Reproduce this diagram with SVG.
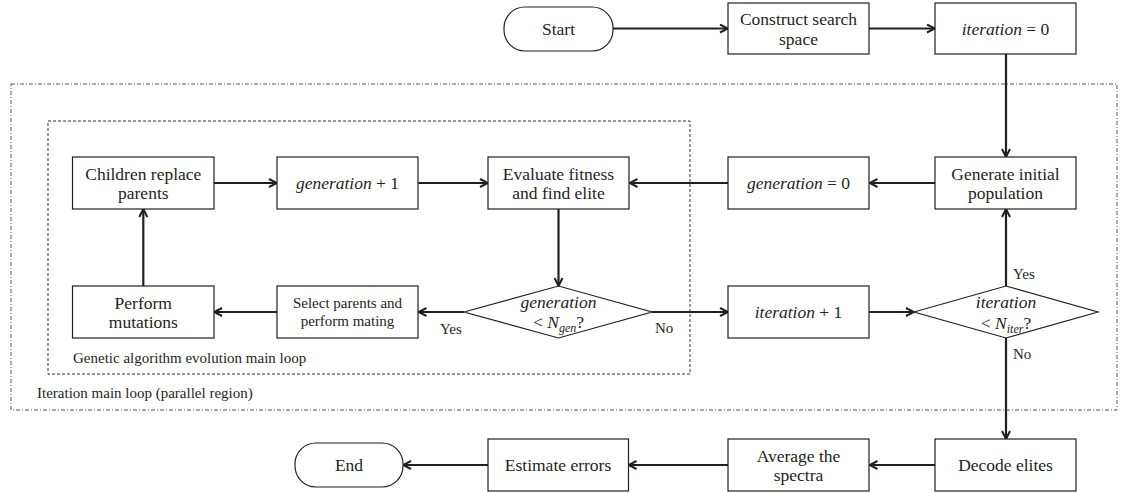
<svg xmlns="http://www.w3.org/2000/svg" width="1126" height="493" viewBox="0 0 1126 493">
<defs>
<style>
.box{fill:#fff;stroke:#231f20;stroke-width:1.2}
.t{font-family:'Liberation Serif','Noto Serif','DejaVu Serif','Nimbus Roman','FreeSerif','Tinos',Times,serif;font-size:17.5px;fill:#231f20;text-anchor:middle}
.s{font-family:'Liberation Serif','Noto Serif','DejaVu Serif','Nimbus Roman','FreeSerif','Tinos',Times,serif;font-size:15px;fill:#231f20}
.i{font-style:italic}
.c{fill:none;stroke:#231f20;stroke-width:2.2;marker-end:url(#arr)}
.outer{fill:none;stroke:#555;stroke-width:1;stroke-dasharray:4 2 1 2}
.inner{fill:none;stroke:#333;stroke-width:1;stroke-dasharray:3 2}
</style>
<marker id="arr" viewBox="0 0 10 10" refX="9" refY="5" markerWidth="10" markerHeight="10" markerUnits="userSpaceOnUse" orient="auto">
<path d="M1,1 L9,5 L1,9" fill="none" stroke="#231f20" stroke-width="2"/>
</marker>
</defs>
<rect width="1126" height="493" fill="#fff"/>
<g id="regions">
<rect class="outer" x="11" y="84" width="1106" height="326"/>
<text class="s" x="37" y="398">Iteration main loop (parallel region)</text>
<rect class="inner" x="48" y="121" width="642" height="253"/>
<text class="s" x="73" y="363">Genetic algorithm evolution main loop</text>
</g>
<g id="connectors">
<line class="c" x1="613" y1="28.5" x2="728" y2="28.5"/>
<line class="c" x1="869" y1="28.5" x2="935" y2="28.5"/>
<line class="c" x1="1006" y1="54" x2="1006" y2="157"/>
<line class="c" x1="935" y1="183" x2="869.5" y2="183"/>
<line class="c" x1="728" y1="183" x2="629.5" y2="183"/>
<line class="c" x1="558.5" y1="209" x2="558.5" y2="286"/>
<line class="c" x1="464" y1="312" x2="418.5" y2="312"/>
<line class="c" x1="277" y1="312" x2="214" y2="312"/>
<line class="c" x1="143.3" y1="286" x2="143.3" y2="209"/>
<line class="c" x1="214" y1="183" x2="277" y2="183"/>
<line class="c" x1="418.5" y1="183" x2="488" y2="183"/>
<line class="c" x1="652" y1="312" x2="728" y2="312"/>
<line class="c" x1="869" y1="312" x2="914" y2="312"/>
<line class="c" x1="1006" y1="286" x2="1006" y2="209"/>
<line class="c" x1="1006" y1="338" x2="1006" y2="439"/>
<line class="c" x1="935" y1="465" x2="869.5" y2="465"/>
<line class="c" x1="728" y1="465" x2="628.5" y2="465"/>
<line class="c" x1="488" y1="465" x2="403" y2="465"/>
<text class="s" x="440" y="334">Yes</text>
<text class="s" x="655" y="333">No</text>
<text class="s" x="1013" y="279">Yes</text>
<text class="s" x="1013" y="359">No</text>
</g>
<g id="start">
<rect class="box" x="504" y="7" width="109" height="44" rx="21" ry="21"/>
<text class="t" x="558.5" y="35">Start</text>
</g>
<g id="construct">
<rect class="box" x="728" y="3" width="141" height="51"/>
<text class="t" x="798.5" y="25">Construct search</text>
<text class="t" x="798.5" y="44.5">space</text>
</g>
<g id="iter0">
<rect class="box" x="935" y="3" width="141" height="51"/>
<text class="t" x="1005.5" y="35"><tspan class="i">iteration</tspan> = 0</text>
</g>
<g id="geninit">
<rect class="box" x="935" y="157" width="141" height="52"/>
<text class="t" x="1005.5" y="179.5">Generate initial</text>
<text class="t" x="1005.5" y="199">population</text>
</g>
<g id="gen0">
<rect class="box" x="728" y="157" width="141" height="52"/>
<text class="t" x="798.5" y="189"><tspan class="i">generation</tspan> = 0</text>
</g>
<g id="evaluate">
<rect class="box" x="488" y="157" width="141" height="52"/>
<text class="t" x="558.5" y="179.5">Evaluate fitness</text>
<text class="t" x="558.5" y="199">and find elite</text>
</g>
<g id="genplus">
<rect class="box" x="277" y="157" width="141" height="52"/>
<text class="t" x="347.5" y="189"><tspan class="i">generation</tspan> + 1</text>
</g>
<g id="children">
<rect class="box" x="72.5" y="157" width="141.5" height="52"/>
<text class="t" x="143.3" y="179.5">Children replace</text>
<text class="t" x="143.3" y="199">parents</text>
</g>
<g id="mutate">
<rect class="box" x="72.5" y="286" width="141.5" height="52"/>
<text class="t" x="143.3" y="308.5">Perform</text>
<text class="t" x="143.3" y="328">mutations</text>
</g>
<g id="select">
<rect class="box" x="277" y="286" width="141" height="52"/>
<text class="t" x="347.5" y="308" style="font-size:15px">Select parents and</text>
<text class="t" x="347.5" y="325.5" style="font-size:15px">perform mating</text>
</g>
<g id="gencheck">
<polygon class="box" points="464,312 558.5,286 652,312 558.5,338"/>
<text class="t" x="558.5" y="307.5"><tspan class="i">generation</tspan></text>
<text class="t" x="558.5" y="327.5">&lt; <tspan class="i">N</tspan><tspan class="i" style="font-size:12px" dy="4">gen</tspan><tspan dy="-4">?</tspan></text>
</g>
<g id="iterplus">
<rect class="box" x="728" y="286" width="141" height="52"/>
<text class="t" x="798.5" y="318"><tspan class="i">iteration</tspan> + 1</text>
</g>
<g id="itercheck">
<polygon class="box" points="914,312 1006,286 1098,312 1006,338"/>
<text class="t" x="1006" y="307.5"><tspan class="i">iteration</tspan></text>
<text class="t" x="1006" y="328.5">&lt; <tspan class="i">N</tspan><tspan class="i" style="font-size:12px" dy="4">iter</tspan><tspan dy="-4">?</tspan></text>
</g>
<g id="decode">
<rect class="box" x="935" y="439" width="141" height="52"/>
<text class="t" x="1005.5" y="471">Decode elites</text>
</g>
<g id="average">
<rect class="box" x="728" y="439" width="141" height="52"/>
<text class="t" x="798.5" y="461.5">Average the</text>
<text class="t" x="798.5" y="481">spectra</text>
</g>
<g id="estimate">
<rect class="box" x="488" y="439" width="140.5" height="52"/>
<text class="t" x="558" y="471">Estimate errors</text>
</g>
<g id="end">
<rect class="box" x="295" y="443" width="108" height="44" rx="21" ry="21"/>
<text class="t" x="349" y="471">End</text>
</g>
</svg>
